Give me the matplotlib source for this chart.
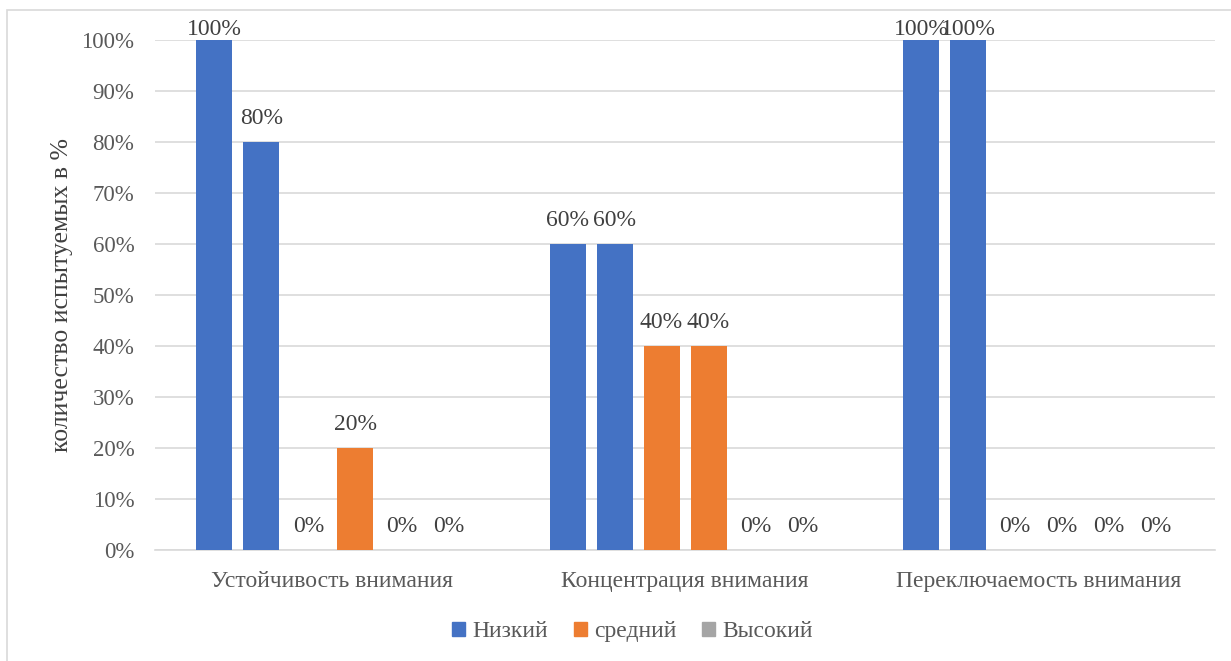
import matplotlib
matplotlib.use("Agg")
import matplotlib.pyplot as plt
import numpy as np
from matplotlib.patches import Rectangle

# Данные диаграммы
categories = ["Устойчивость внимания", "Концентрация внимания", "Переключаемость внимания"]
low_1 = [100, 60, 100]
low_2 = [80, 60, 100]
mid_1 = [0, 40, 0]
mid_2 = [20, 40, 0]
high_1 = [0, 0, 0]
high_2 = [0, 0, 0]
series_names = ["Низкий", "средний", "Высокий"]
yticks = [0, 10, 20, 30, 40, 50, 60, 70, 80, 90, 100]

blue, orange, gray = "#4472C4", "#ED7D31", "#A5A5A5"
text_color = "#595959"

plt.rcParams['font.family'] = ['Liberation Serif', 'DejaVu Serif']

fig = plt.figure(figsize=(12.31, 6.61), dpi=100)
fig.patches.append(Rectangle((0.006, -0.01), 1.0, 0.995, transform=fig.transFigure,
                             fill=False, edgecolor="#D9D9D9", linewidth=1.2))
ax = fig.add_axes([0.126, 0.168, 0.861, 0.7715])

x = np.arange(len(categories))
step = 0.133
width = 0.102
bars = [(low_1, blue), (low_2, blue), (mid_1, orange), (mid_2, orange),
        (high_1, gray), (high_2, gray)]

for i, (vals, color) in enumerate(bars):
    pos = x + (i - 2.5) * step
    ax.bar(pos, vals, width=width, color=color, zorder=3)
    for px, v in zip(pos, vals):
        off = 0 if v >= 100 else 9
        ax.annotate(f"{v}%", (px, v), xytext=(0, off), textcoords="offset points",
                    ha="center", va="bottom", fontsize=17, color="#404040",
                    annotation_clip=False)

ax.set_xlim(-0.5, 2.5)
ax.set_ylim(0, 100)
ax.set_yticks(yticks)
ax.set_yticklabels([f"{t}%" for t in yticks], fontsize=16.5, color=text_color)
ax.set_xticks(x)
ax.set_xticklabels(categories, fontsize=17, color=text_color)
ax.tick_params(axis="both", length=0)
ax.tick_params(axis="x", pad=15)
ax.tick_params(axis="y", pad=15)
ax.grid(axis="y", color="#D9D9D9", linewidth=1.2, zorder=0)
for s in ["top", "right", "left"]:
    ax.spines[s].set_visible(False)
ax.spines["bottom"].set_color("#D9D9D9")
ax.spines["bottom"].set_linewidth(1.2)
ax.set_ylabel("количество испытуемых в %", fontsize=18.5, color="#404040", labelpad=6)

handles = [Rectangle((0, 0), 1, 1, color=c) for c in [blue, orange, gray]]
fig.legend(handles, series_names, loc="center", bbox_to_anchor=(0.514, 0.044), ncol=3,
           frameon=False, fontsize=17, handlelength=0.55, handleheight=0.55,
           handletextpad=0.3, columnspacing=1.1, labelcolor=text_color)

fig.savefig("out.png", dpi=100)
